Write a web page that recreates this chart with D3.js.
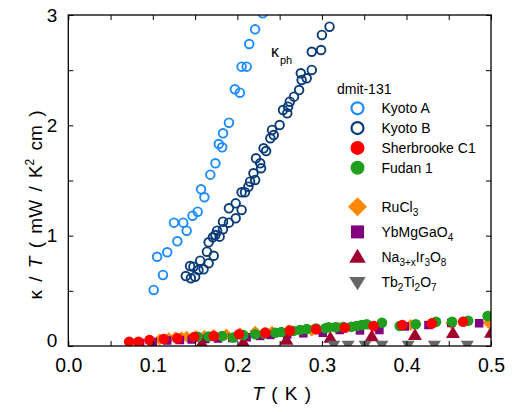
<!DOCTYPE html>
<html>
<head>
<meta charset="utf-8">
<script src="https://cdn.jsdelivr.net/npm/d3@7"></script>
<style>
  html, body { margin: 0; padding: 0; background: #fff; }
  svg { display: block; font-family: "Liberation Sans", Arial, Helvetica, sans-serif; }
</style>
</head>
<body>
<svg id="chart" width="521" height="412"></svg>
<script>
// kappa/T (mW / K^2 cm) versus T (K); each entry is [T, kappa/T]
const kyotoA = [
  [0.101,0.508],[0.112,0.644],[0.105,0.809],[0.117,0.849],[0.129,0.949],
  [0.125,1.118],[0.136,1.118],[0.140,1.045],[0.147,1.181],[0.153,1.217],
  [0.157,1.420],[0.161,1.348],[0.168,1.553],[0.174,1.656],[0.178,1.831],
  [0.182,1.801],[0.183,1.928],[0.190,2.024],[0.197,2.327],[0.203,2.296],
  [0.205,2.532],[0.211,2.532],[0.214,2.737],[0.221,2.870],[0.230,3.015]
];
const kyotoB = [
  [0.139,0.634],[0.145,0.614],[0.150,0.628],[0.144,0.725],[0.148,0.719],
  [0.154,0.689],[0.160,0.695],[0.156,0.773],[0.166,0.750],[0.172,0.818],
  [0.164,0.855],[0.166,0.940],[0.171,0.985],[0.174,1.006],[0.179,0.991],
  [0.176,1.045],[0.183,1.058],[0.183,1.127],[0.190,1.118],[0.198,1.157],
  [0.190,1.248],[0.198,1.293],[0.205,1.233],[0.205,1.393],[0.209,1.393],
  [0.213,1.444],[0.215,1.489],[0.221,1.505],[0.219,1.565],[0.228,1.611],
  [0.227,1.656],[0.222,1.701],[0.234,1.767],[0.231,1.792],[0.239,1.883],
  [0.241,1.958],[0.243,1.912],[0.250,2.003],[0.254,2.139],[0.259,2.109],
  [0.260,2.169],[0.262,2.214],[0.267,2.260],[0.273,2.320],[0.276,2.411],
  [0.282,2.426],[0.275,2.472],[0.288,2.502],[0.288,2.667],[0.299,2.683],
  [0.300,2.819],[0.309,2.894]
];
const sherbrookeC1 = [
  [0.072,0.039],[0.083,0.039],[0.096,0.054],[0.113,0.063],[0.129,0.069],
  [0.149,0.082],[0.172,0.091],[0.202,0.106],[0.233,0.121],[0.262,0.139],
  [0.293,0.151],[0.327,0.165],[0.361,0.181],[0.395,0.190],[0.430,0.205],
  [0.467,0.220]
];
const fudan1 = [
  [0.153,0.084],[0.166,0.086],[0.182,0.091],[0.195,0.077],[0.207,0.100],
  [0.221,0.107],[0.232,0.113],[0.245,0.120],[0.252,0.127],[0.266,0.136],
  [0.274,0.145],[0.282,0.154],[0.293,0.159],[0.304,0.161],[0.308,0.170],
  [0.316,0.170],[0.325,0.172],[0.335,0.175],[0.341,0.181],[0.347,0.190],
  [0.353,0.197],[0.371,0.211],[0.392,0.181],[0.411,0.197],[0.435,0.220],
  [0.454,0.220],[0.473,0.229],[0.496,0.272]
];
const ruCl3 = [
  [0.108,0.059],[0.119,0.070],[0.127,0.079],[0.134,0.079],[0.140,0.084],
  [0.151,0.091],[0.161,0.091],[0.172,0.100],[0.187,0.104],[0.203,0.115],
  [0.221,0.130],[0.241,0.130],[0.260,0.140],[0.288,0.140],[0.319,0.168],
  [0.363,0.175],[0.405,0.190],[0.453,0.206],[0.497,0.211]
];
const ybMgGaO4 = [
  [0.085,0.027],[0.100,0.036],[0.117,0.050],[0.132,0.054],[0.146,0.059],
  [0.162,0.063],[0.177,0.068],[0.194,0.072],[0.211,0.079],[0.227,0.091],
  [0.239,0.100],[0.259,0.104],[0.278,0.115],[0.301,0.120],[0.321,0.145],
  [0.345,0.141],[0.368,0.145],[0.398,0.177],[0.426,0.190],[0.453,0.209],
  [0.486,0.206]
];
const naIrO = [
  [0.158,0.023],[0.207,0.032],[0.258,0.054],[0.310,0.072],[0.359,0.086],
  [0.410,0.098],[0.455,0.116],[0.500,0.118]
];
const tbTiO = [
  [0.314,0.010],[0.331,0.010],[0.351,0.010],[0.371,0.010],[0.402,0.010],
  [0.433,0.010],[0.472,0.010]
];

const xTickLabels = ["0.0", "0.1", "0.2", "0.3", "0.4", "0.5"];
const yTickLabels = ["0", "1", "2", "3"];

const W = 521, H = 412;
const plot = { left: 68.3, right: 491, top: 15, bottom: 346 };

const x = d3.scaleLinear().domain([0, 0.5]).range([plot.left, plot.right]);
const y = d3.scaleLinear().domain([0, 3]).range([plot.bottom, plot.top]);

const svg = d3.select("#chart");

// marker outlines, centred on (0,0)
function markerPath(kind, s) {
  const p = d3.path();
  if (kind === "diamond") {
    p.moveTo(0, -s); p.lineTo(s, 0); p.lineTo(0, s); p.lineTo(-s, 0); p.closePath();
  } else if (kind === "square") {
    p.rect(-s / 2, -s / 2, s, s);
  } else if (kind === "triUp") {
    const w = s, h = s * 0.85;
    p.moveTo(0, -0.6 * h); p.lineTo(w / 2, 0.4 * h); p.lineTo(-w / 2, 0.4 * h); p.closePath();
  } else if (kind === "triDown") {
    const w = s, h = s * 0.8;
    p.moveTo(-w / 2, -0.4 * h); p.lineTo(w / 2, -0.4 * h); p.lineTo(0, 0.6 * h); p.closePath();
  }
  return p.toString();
}

const series = [
  { name: "RuCl3",     data: ruCl3,        kind: "diamond", size: 6,   fill: "#ff8800" },
  { name: "YbMgGaO4",  data: ybMgGaO4,     kind: "square",  size: 8.5, fill: "#800080" },
  { name: "Na3+xIr3O8",data: naIrO,        kind: "triUp",   size: 14,  fill: "#a0002c" },
  { name: "Tb2Ti2O7",  data: tbTiO,        kind: "triDown", size: 13,  fill: "#666666" },
  { name: "Fudan 1",   data: fudan1,       kind: "dot",     size: 5.3, fill: "#1f9e1f" },
  { name: "Sherbrooke",data: sherbrookeC1, kind: "dot",     size: 5.3, fill: "#ff0000" },
  { name: "Kyoto B",   data: kyotoB,       kind: "ring",    size: 4.3, stroke: "#0b3c7a" },
  { name: "Kyoto A",   data: kyotoA,       kind: "ring",    size: 4.3, stroke: "#1c8cff" }
];

svg.append("clipPath").attr("id", "plotClip")
  .append("rect")
  .attr("x", plot.left).attr("y", plot.top)
  .attr("width", plot.right - plot.left).attr("height", plot.bottom - plot.top);

const marks = svg.append("g").attr("clip-path", "url(#plotClip)");

series.forEach(s => {
  const g = marks.append("g");
  if (s.kind === "ring") {
    g.selectAll("circle").data(s.data).join("circle")
      .attr("cx", d => x(d[0])).attr("cy", d => y(d[1])).attr("r", s.size)
      .attr("fill", "none").attr("stroke", s.stroke).attr("stroke-width", 1.9);
  } else if (s.kind === "dot") {
    g.selectAll("circle").data(s.data).join("circle")
      .attr("cx", d => x(d[0])).attr("cy", d => y(d[1])).attr("r", s.size)
      .attr("fill", s.fill);
  } else {
    g.selectAll("path").data(s.data).join("path")
      .attr("transform", d => `translate(${x(d[0])},${y(d[1])})`)
      .attr("d", markerPath(s.kind, s.size))
      .attr("fill", s.fill);
  }
});

// axes: inward ticks on all four sides
const xTickValues = d3.range(0, 0.5001, 0.05);
const yTickValues = d3.range(0, 3.0001, 0.5);
const xFmt = v => {
  const i = Math.round(v * 20);
  return i % 2 === 0 ? xTickLabels[i / 2] : "";
};
const yFmt = v => {
  const i = Math.round(v * 2);
  return i % 2 === 0 ? yTickLabels[i / 2] : "";
};

function styleAxis(g, size) {
  g.select(".domain").remove();
  g.selectAll(".tick line").attr("stroke", "#000").attr("stroke-width", 1);
  g.selectAll(".tick text").attr("fill", "#000").attr("font-size", size)
    .attr("font-family", "Liberation Sans, Arial, sans-serif");
}

svg.append("g").attr("transform", `translate(0,${plot.bottom})`)
  .call(d3.axisBottom(x).tickValues(xTickValues).tickSize(-5).tickPadding(12).tickFormat(xFmt))
  .call(styleAxis, 19.5);
svg.append("g").attr("transform", `translate(0,${plot.top})`)
  .call(d3.axisTop(x).tickValues(xTickValues).tickSize(-5).tickFormat(""))
  .call(styleAxis, 19.5);
const yAxisG = svg.append("g").attr("transform", `translate(${plot.left},0)`)
  .call(d3.axisLeft(y).tickValues(yTickValues).tickSize(-5).tickPadding(11).tickFormat(yFmt))
  .call(styleAxis, 19);
svg.append("g").attr("transform", `translate(${plot.right},0)`)
  .call(d3.axisRight(y).tickValues(yTickValues).tickSize(-5).tickFormat(""))
  .call(styleAxis, 19);

// lift the "0" on the y axis clear of the x-axis "0.0"
yAxisG.selectAll(".tick").filter(d => d === 0).select("text").attr("dy", "0.0em");

svg.append("rect")
  .attr("x", plot.left).attr("y", plot.top)
  .attr("width", plot.right - plot.left).attr("height", plot.bottom - plot.top)
  .attr("fill", "none").attr("stroke", "#000").attr("stroke-width", 1.3);

// axis titles
const xt = svg.append("text")
  .attr("x", (plot.left + plot.right) / 2 + 2).attr("y", 400)
  .attr("text-anchor", "middle").attr("font-size", 19).attr("word-spacing", 2);
xt.append("tspan").attr("font-style", "italic").text("T");
xt.append("tspan").text(" ( K )");

const yt = svg.append("text")
  .attr("transform", "translate(42,205) rotate(-90)")
  .attr("text-anchor", "middle").attr("font-size", 19).attr("word-spacing", 3);
yt.append("tspan").text("κ / ");
yt.append("tspan").attr("font-style", "italic").text("T");
yt.append("tspan").text(" ( mW / K");
yt.append("tspan").attr("font-size", 12).attr("dy", -8).text("2");
yt.append("tspan").attr("dy", 8).text(" cm )");

// phonon label
const kph = svg.append("text").attr("x", 271).attr("y", 57).attr("font-size", 16);
kph.append("tspan").text("κ");
kph.append("tspan").attr("font-size", 11).attr("dx", 1).attr("dy", 7).text("ph");

// legend
const legend = svg.append("g");
legend.append("text").attr("x", 337).attr("y", 94).attr("font-size", 14).text("dmit-131");

const legendA = [
  { parts: [["Kyoto A", 0]],       kind: "ring", stroke: "#1c8cff" },
  { parts: [["Kyoto B", 0]],       kind: "ring", stroke: "#0b3c7a" },
  { parts: [["Sherbrooke C1", 0]], kind: "dot",  fill: "#ff0000" },
  { parts: [["Fudan 1", 0]],       kind: "dot",  fill: "#1f9e1f" }
];
const legendB = [
  { parts: [["RuCl", 0], ["3", 1]], kind: "diamond", size: 9.5, fill: "#ff8800" },
  { parts: [["YbMgGaO", 0], ["4", 1]], kind: "square", size: 13, fill: "#800080" },
  { parts: [["Na", 0], ["3+x", 1], ["Ir", 0], ["3", 1], ["O", 0], ["8", 1]], kind: "triUp", size: 16.5, fill: "#a0002c" },
  { parts: [["Tb", 0], ["2", 1], ["Ti", 0], ["2", 1], ["O", 0], ["7", 1]], kind: "triDown", size: 16.5, fill: "#666666" }
];

function legendRow(item, cy) {
  const mx = 357.5;
  if (item.kind === "ring") {
    legend.append("circle").attr("cx", mx).attr("cy", cy).attr("r", 6)
      .attr("fill", "none").attr("stroke", item.stroke).attr("stroke-width", 2.2);
  } else if (item.kind === "dot") {
    legend.append("circle").attr("cx", mx).attr("cy", cy).attr("r", 7).attr("fill", item.fill);
  } else {
    legend.append("path").attr("transform", `translate(${mx},${cy})`)
      .attr("d", markerPath(item.kind, item.size)).attr("fill", item.fill);
  }
  const t = legend.append("text").attr("x", 381.5).attr("y", cy + 5).attr("font-size", 14);
  let shifted = false;
  item.parts.forEach(([s, sub]) => {
    const ts = t.append("tspan").text(s);
    if (sub && !shifted) { ts.attr("font-size", 10).attr("dy", 4); shifted = true; }
    else if (sub) { ts.attr("font-size", 10); }
    else if (shifted) { ts.attr("dy", -4); shifted = false; }
  });
}
legendA.forEach((item, i) => legendRow(item, 108.3 + i * 19.8));
legendB.forEach((item, i) => legendRow(item, 206.7 + i * 25.2));
</script>
</body>
</html>
